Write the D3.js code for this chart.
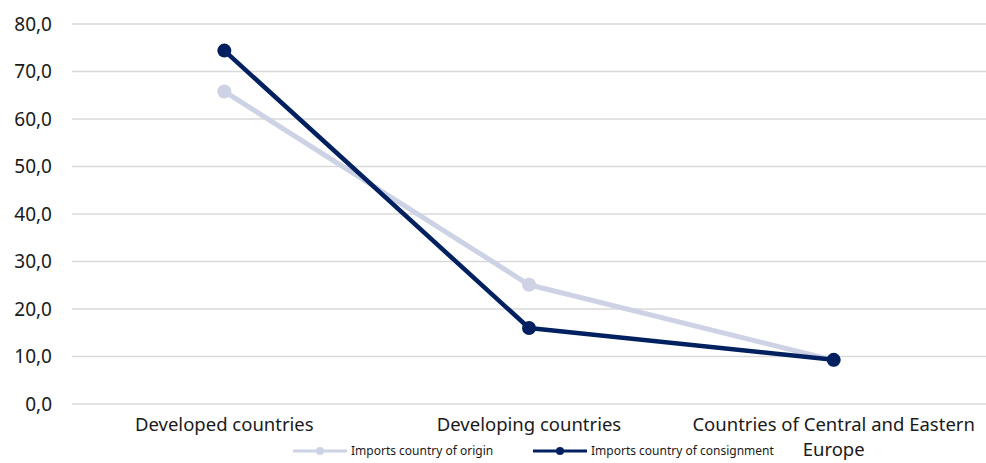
<!DOCTYPE html>
<html>
<head>
<meta charset="utf-8">
<script src="https://cdn.jsdelivr.net/npm/d3@7/dist/d3.min.js"></script>
<style>
  body { margin: 0; background: #fff; }
  svg { display: block; font-family: 'Noto Sans', sans-serif; }
</style>
</head>
<body>
<div id="chart"></div>
<script>
// Chart data
const categories = ['Developed countries', 'Developing countries', 'Countries of Central and Eastern Europe'];
const seriesNames = ['Imports country of origin', 'Imports country of consignment'];
const originValues = [65.8, 25.1, 9.2];
const consignmentValues = [74.4, 16.0, 9.3];
const yTicks = [0, 10, 20, 30, 40, 50, 60, 70, 80];
const seriesColors = ['#cdd2e4', '#002060'];

const width = 986;
const height = 463;
const margin = { top: 24, right: 0, bottom: 59, left: 72 };

const svg = d3.select('#chart')
    .append('svg')
    .attr('width', width)
    .attr('height', height);

const x = d3.scalePoint()
    .domain(categories)
    .range([margin.left, width - margin.right])
    .padding(0.5);

const y = d3.scaleLinear()
    .domain([0, 80])
    .range([height - margin.bottom, margin.top]);

// Gridlines
svg.append('g')
    .selectAll('line')
    .data(yTicks)
    .join('line')
    .attr('x1', margin.left)
    .attr('x2', width - margin.right)
    .attr('y1', d => y(d))
    .attr('y2', d => y(d))
    .attr('stroke', '#d9d9d9')
    .attr('stroke-width', 1.5);

// Y axis
const yAxis = svg.append('g')
    .attr('transform', `translate(${margin.left - 17},0)`)
    .call(d3.axisLeft(y).tickValues(yTicks).tickSize(0).tickFormat(d => d3.format('.1f')(d).replace('.', ',')));
yAxis.select('.domain').remove();
yAxis.selectAll('text')
    .attr('fill', '#1a1a1a')
    .style('font-size', '19px')
    .style('font-family', "'Noto Sans', sans-serif");

// X axis labels (long one wrapped onto two lines)
const xLabels = svg.append('g');
categories.forEach(c => {
    const lines = c === categories[2] ? ['Countries of Central and Eastern', 'Europe'] : [c];
    lines.forEach((l, i) => {
        xLabels.append('text')
            .attr('x', x(c))
            .attr('y', 431 + i * 24.5)
            .attr('text-anchor', 'middle')
            .attr('fill', '#1a1a1a')
            .style('font-size', '18.5px')
            .text(l);
    });
});

// Series
const series = [originValues, consignmentValues];
const widths = [5, 4.5];
const line = d3.line()
    .x((d, i) => x(categories[i]))
    .y(d => y(d));

series.forEach((vals, s) => {
    const g = svg.append('g');
    g.append('path')
        .datum(vals)
        .attr('fill', 'none')
        .attr('stroke', seriesColors[s])
        .attr('stroke-width', widths[s])
        .attr('stroke-linejoin', 'round')
        .attr('d', line);
    g.selectAll('circle')
        .data(vals)
        .join('circle')
        .attr('cx', (d, i) => x(categories[i]))
        .attr('cy', d => y(d))
        .attr('r', 7)
        .attr('fill', seriesColors[s]);
});

// Legend
const legendX = [293, 533];
const legend = svg.append('g').attr('transform', 'translate(0,451)');
seriesNames.forEach((name, i) => {
    const g = legend.append('g').attr('transform', `translate(${legendX[i]},0)`);
    g.append('line')
        .attr('x1', 0).attr('x2', 54)
        .attr('stroke', seriesColors[i])
        .attr('stroke-width', 3);
    g.append('circle')
        .attr('cx', 27)
        .attr('r', 4)
        .attr('fill', seriesColors[i]);
    g.append('text')
        .attr('x', 58)
        .attr('dy', '0.35em')
        .attr('fill', '#1a1a1a')
        .style('font-size', '12px')
        .text(name);
});
</script>
</body>
</html>
